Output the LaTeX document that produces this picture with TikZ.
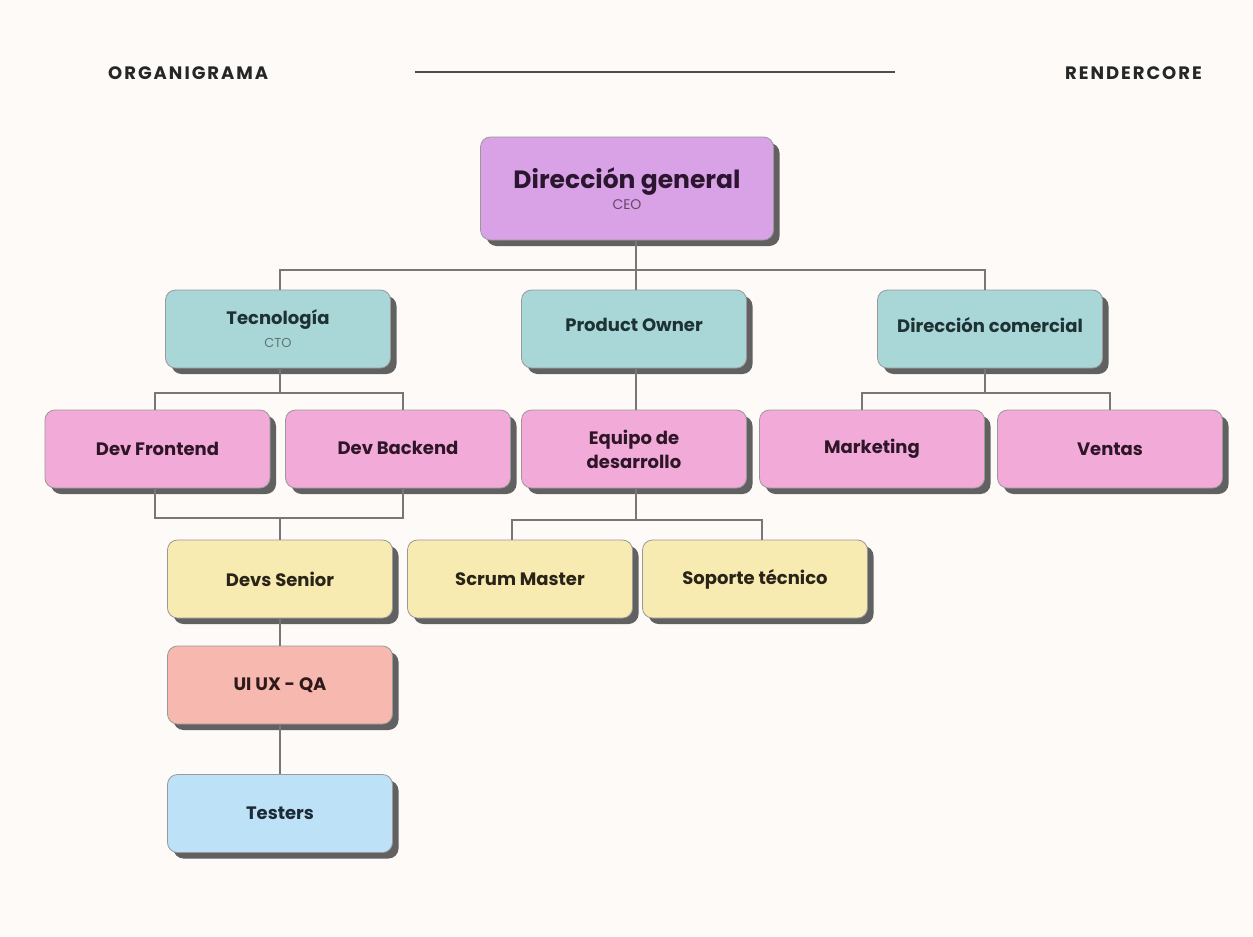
\documentclass[tikz,border=0pt]{standalone}
\usepackage{fontspec}
\setmainfont{Poppins}
\newfontfamily\headfont[LetterSpace=11]{Poppins}
\usetikzlibrary{shadows}
\definecolor{bg}{HTML}{FDFAF8}
\definecolor{cpurple}{HTML}{D9A2E6}
\definecolor{cteal}{HTML}{A9D6D6}
\definecolor{cpink}{HTML}{F2AAD8}
\definecolor{cyellow}{HTML}{F8EBB2}
\definecolor{csalmon}{HTML}{F7B9AF}
\definecolor{cblue}{HTML}{BDE2F8}
\definecolor{tpurple}{HTML}{2B1630}
\definecolor{tteal}{HTML}{1E3234}
\definecolor{tpink}{HTML}{2E1628}
\definecolor{tyellow}{HTML}{2A2418}
\definecolor{tsalmon}{HTML}{2E1A1A}
\definecolor{tblue}{HTML}{1C2A36}
\definecolor{cline}{HTML}{777777}
\tikzset{
  box/.style={draw=black!40, line width=0.8pt, rounded corners=10pt, minimum width=225pt, minimum height=78pt,
    align=center, font=\fontsize{18}{23}\selectfont\bfseries,
    drop shadow={shadow xshift=6pt, shadow yshift=-6pt, fill=black!62, opacity=1}},
  link/.style={draw=cline, line width=1.2pt},
  head/.style={font=\headfont\fontsize{18}{20}\selectfont\bfseries, text=black!85, inner sep=0pt}
}
\begin{document}
\begin{tikzpicture}[x=1pt,y=-1pt]
\fill[bg] (0,0) rectangle (1253,937);
\useasboundingbox (0,0) rectangle (1253,937);
% header
\node[head,anchor=west] (hl) at (108,73) {ORGANIGRAMA};
\node[head,anchor=east] (hr) at (1202,73) {RENDERCORE};
\coordinate (r1) at (415,72);
\coordinate (r2) at (895,72);
\draw[draw=black!70, line width=1.6pt] (r1) -- (r2);
% nodes
\node[box, fill=cpurple, text=tpurple, minimum width=293pt, minimum height=103pt] (ceo) at (627,188.5)
  {\raisebox{-3pt}{\fontsize{25}{28}\selectfont Dirección general}\\[1pt]{\fontsize{14}{16}\selectfont\mdseries\color{black!55!cpurple} CEO}};
\node[box, fill=cteal, text=tteal] (tec) at (278,329) {\raisebox{1pt}{Tecnología}\\[-1pt]{\fontsize{13}{15}\selectfont\mdseries\color{black!45!cteal} CTO}};
\node[box, fill=cteal, text=tteal] (po) at (634,329) {\raisebox{8pt}{Product Owner}};
\node[box, fill=cteal, text=tteal] (dc) at (990,329) {\raisebox{8pt}{Dirección comercial}};
\node[box, fill=cpink, text=tpink] (df) at (157.5,449) {Dev Frontend};
\node[box, fill=cpink, text=tpink] (db) at (398,449) {\raisebox{2pt}{Dev Backend}};
\node[box, fill=cpink, text=tpink, font=\fontsize{18}{24}\selectfont\bfseries] (eq) at (634,449) {Equipo de\\desarrollo};
\node[box, fill=cpink, text=tpink] (mk) at (872,449) {Marketing};
\node[box, fill=cpink, text=tpink] (ve) at (1110,449) {Ventas};
\node[box, fill=cyellow, text=tyellow] (ds) at (280,579) {Devs Senior};
\node[box, fill=cyellow, text=tyellow] (sm) at (520,579) {Scrum Master};
\node[box, fill=cyellow, text=tyellow] (st) at (755,579) {Soporte técnico};
\node[box, fill=csalmon, text=tsalmon] (ux) at (280,685) {UI UX - QA};
\node[box, fill=cblue, text=tblue] (te) at (280,813.5) {Testers};
% connectors
\coordinate (b1) at (636,270);
\draw[link] (ceo.south -| b1) -- (b1);
\draw[link] ([xshift=2pt]tec.north) |- (b1) -| ([xshift=-5pt]dc.north);
\draw[link] (po.north -| b1) -- (b1);
\coordinate (b2) at (280,393);
\draw[link] (tec.south -| b2) -- (b2);
\coordinate (b2l) at (155,393);
\coordinate (b2r) at (403,393);
\draw[link] (df.north -| b2l) -- (b2l) -- (b2r) -- (db.north -| b2r);
\coordinate (b3) at (985,393);
\coordinate (b3l) at (862,393);
\coordinate (b3r) at (1110,393);
\draw[link] (dc.south -| b3) -- (b3);
\draw[link] (mk.north -| b3l) -- (b3l) -- (b3r) -- (ve.north -| b3r);
\draw[link] (po.south -| b1) -- (eq.north -| b1);
\coordinate (b4) at (280,518);
\coordinate (b4l) at (155,518);
\coordinate (b4r) at (403,518);
\draw[link] (df.south -| b4l) -- (b4l) -- (b4r) -- (db.south -| b4r);
\draw[link] (b4) -- (ds.north);
\coordinate (b5) at (636,520);
\coordinate (b5l) at (512,520);
\coordinate (b5r) at (762,520);
\draw[link] (eq.south -| b5) -- (b5);
\draw[link] (sm.north -| b5l) -- (b5l) -- (b5r) -- (st.north -| b5r);
\draw[link] (ds.south) -- (ux.north);
\draw[link] (ux.south) -- (te.north);
\end{tikzpicture}
\end{document}
